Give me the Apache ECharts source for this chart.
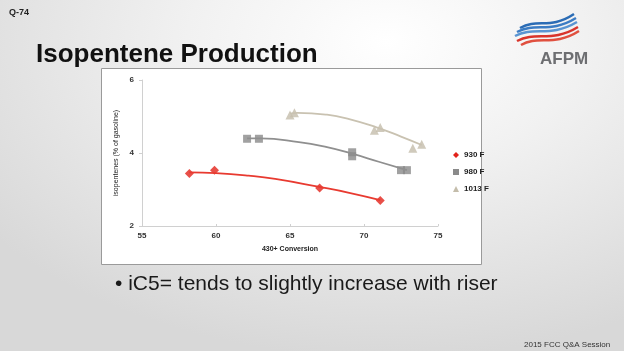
<!DOCTYPE html>
<html>
<head>
<meta charset="utf-8">
<script src="https://cdn.jsdelivr.net/npm/echarts@6/dist/echarts.min.js"></script>
<style>
  html, body { margin: 0; padding: 0; }
  body {
    width: 624px; height: 351px; overflow: hidden;
    background: radial-gradient(ellipse 80% 90% at 62% 12%, #ffffff 0%, #f1f1f1 40%, #d8d8d8 100%);
  }
  #chart { width: 624px; height: 351px; }
</style>
</head>
<body>
<div id="chart"></div>
<script>
// series names (legend)
const seriesNames = ['930 F', '980 F', '1013 F'];

// measured points [430+ conversion, isopentenes %]
const pts930 = [[58.2, 3.44], [59.9, 3.53], [67.0, 3.04], [71.1, 2.70]];
const pts980 = [[62.1, 4.39], [62.9, 4.39], [69.2, 4.02], [69.2, 3.91], [72.5, 3.53], [72.9, 3.53]];
const pts1013 = [[65.0, 5.04], [65.3, 5.10], [70.7, 4.62], [71.1, 4.70], [73.3, 4.13], [73.9, 4.24]];

// trend lines
const trend930 = [[58.2, 3.47], [60.0, 3.45], [62.2, 3.38], [64.0, 3.29], [67.0, 3.07], [69.0, 2.91], [71.1, 2.71]];
const trend980 = [[62.1, 4.40], [63.0, 4.40], [65.6, 4.30], [67.5, 4.16], [69.2, 3.98], [71.0, 3.76], [72.9, 3.53]];
const trend1013 = [[65.0, 5.08], [65.5, 5.10], [67.5, 5.05], [69.0, 4.93], [70.8, 4.71], [72.5, 4.45], [73.9, 4.22]];

const colors = ['#e2231a', '#8a8a8a', '#c4bdab'];
const lineColors = ['#e83a30', '#8f8f8f', '#c9c2b1'];

const chart = echarts.init(document.getElementById('chart'));

const option = {
  animation: false,
  textStyle: { fontFamily: 'Liberation Sans, Arial, sans-serif' },
  title: [
    { text: 'Q-74', left: 4, top: 3, textStyle: { fontSize: 9, fontWeight: 'bold', color: '#222' } },
    { text: 'Isopentene Production', left: 31, top: 37, textStyle: { fontSize: 26, fontWeight: 'bold', color: '#111' } },
    { text: '• iC5= tends to slightly increase with riser', left: 110, top: 269, textStyle: { fontSize: 21, fontWeight: 'normal', color: '#1a1a1a' } },
    { text: '2015 FCC Q&A Session', left: 519, top: 336, textStyle: { fontSize: 8, fontWeight: 'normal', color: '#333' } },
    { text: 'AFPM', left: 535, top: 46, textStyle: { fontSize: 17, fontWeight: 'bold', color: '#6d6e71' } }
  ],
  graphic: [
    {
      type: 'rect', z: -10,
      shape: { x: 101.5, y: 68.5, width: 380, height: 196 },
      style: { fill: '#ffffff', stroke: '#9a9a9a', lineWidth: 1 }
    },
    // logo stripes
    { type: 'bezierCurve', shape: { x1: 520, y1: 28, cpx1: 538, cpy1: 18, cpx2: 550, cpy2: 30, x2: 574, y2: 14 }, style: { stroke: '#2b6cb5', lineWidth: 2.5, fill: null } },
    { type: 'bezierCurve', shape: { x1: 517, y1: 32, cpx1: 536, cpy1: 22, cpx2: 550, cpy2: 34, x2: 576, y2: 18 }, style: { stroke: '#3b7cc4', lineWidth: 2.5, fill: null } },
    { type: 'bezierCurve', shape: { x1: 515, y1: 36, cpx1: 534, cpy1: 26, cpx2: 550, cpy2: 38, x2: 577, y2: 22 }, style: { stroke: '#5a95d2', lineWidth: 2.5, fill: null } },
    { type: 'bezierCurve', shape: { x1: 517, y1: 41, cpx1: 536, cpy1: 31, cpx2: 552, cpy2: 43, x2: 578, y2: 27 }, style: { stroke: '#d9342b', lineWidth: 2.5, fill: null } },
    { type: 'bezierCurve', shape: { x1: 521, y1: 45, cpx1: 538, cpy1: 35, cpx2: 554, cpy2: 47, x2: 579, y2: 31 }, style: { stroke: '#e0503f', lineWidth: 2.5, fill: null } }
  ],
  legend: {
    data: seriesNames.map((n, i) => ({ name: n, icon: ['diamond', 'rect', 'triangle'][i] })),
    orient: 'vertical',
    left: 448, top: 146,
    itemWidth: 6, itemHeight: 6, itemGap: 9,
    textStyle: { fontSize: 8, fontWeight: 'bold', color: '#222' }
  },
  grid: { left: 142, right: 186, top: 80, bottom: 125 },
  xAxis: {
    type: 'value', min: 55, max: 75, interval: 5,
    name: '430+ Conversion', nameLocation: 'middle', nameGap: 20,
    nameTextStyle: { fontSize: 7, fontWeight: 'bold', color: '#222' },
    axisLine: { lineStyle: { color: '#d0d0d0' } },
    axisTick: { show: true, inside: true, length: 2, lineStyle: { color: '#d0d0d0' } },
    axisLabel: { fontSize: 8, fontWeight: 'bold', color: '#333', margin: 6 },
    splitLine: { show: false }
  },
  yAxis: {
    type: 'value', min: 2, max: 6, interval: 2,
    name: 'isopentenes (% of gasoline)', nameLocation: 'middle', nameGap: 22, nameRotate: 90,
    nameTextStyle: { fontSize: 7, color: '#222' },
    axisLine: { show: true, lineStyle: { color: '#d0d0d0' } },
    axisTick: { show: true, length: 3, lineStyle: { color: '#d0d0d0' } },
    axisLabel: { fontSize: 8, fontWeight: 'bold', color: '#333', margin: 8 },
    splitLine: { show: false }
  },
  series: [
    { name: seriesNames[0], type: 'line', data: trend930, smooth: true, showSymbol: false, lineStyle: { color: lineColors[0], width: 1.8 }, itemStyle: { color: colors[0] }, silent: true },
    { name: seriesNames[1], type: 'line', data: trend980, smooth: true, showSymbol: false, lineStyle: { color: lineColors[1], width: 1.8 }, itemStyle: { color: colors[1] }, silent: true },
    { name: seriesNames[2], type: 'line', data: trend1013, smooth: true, showSymbol: false, lineStyle: { color: lineColors[2], width: 1.8 }, itemStyle: { color: colors[2] }, silent: true },
    { name: seriesNames[0], type: 'scatter', data: pts930, symbol: 'diamond', symbolSize: 9, itemStyle: { color: colors[0] } },
    { name: seriesNames[1], type: 'scatter', data: pts980, symbol: 'rect', symbolSize: 8, itemStyle: { color: colors[1] } },
    { name: seriesNames[2], type: 'scatter', data: pts1013, symbol: 'triangle', symbolSize: 9, itemStyle: { color: colors[2] } }
  ]
};

chart.setOption(option);
</script>
</body>
</html>
